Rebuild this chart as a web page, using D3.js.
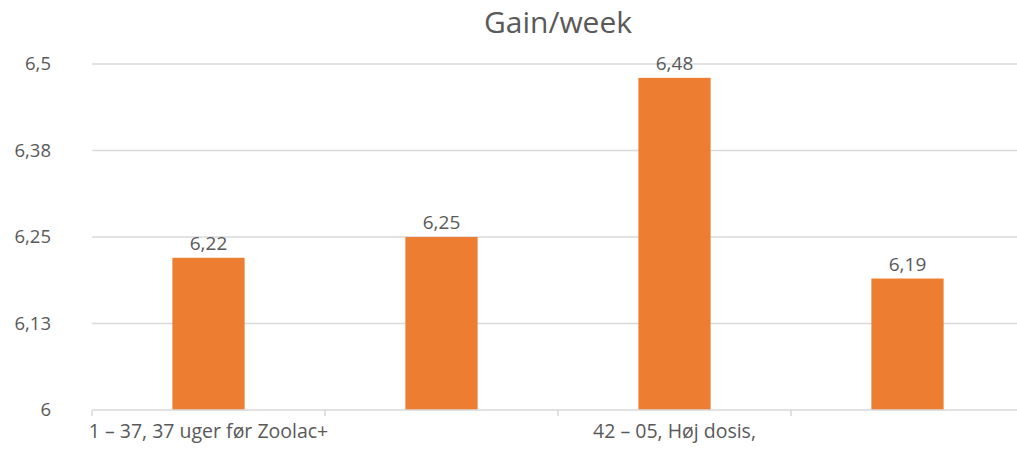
<!DOCTYPE html>
<html><head><meta charset="utf-8">
<script src="https://cdn.jsdelivr.net/npm/d3@7"></script>
<style>body{margin:0;background:#fff}svg{display:block}text{font-family:"Open Sans","Liberation Sans",sans-serif;fill:#595959}</style>
</head><body><svg id="c" width="1017" height="449"></svg>
<script>
const title = "Gain/week";
const categories = ["1 – 37, 37 uger før Zoolac+", "", "42 – 05, Høj dosis,", ""];
const values = [6.22, 6.25, 6.48, 6.19];
const yTicks = [6, 6.125, 6.25, 6.375, 6.5];
const yTickLabels = ["6", "6,13", "6,25", "6,38", "6,5"];

const svg = d3.select("#c");
const m = {left: 92, top: 64, bottom: 410};
const plotRight = 1024;
const x = d3.scaleBand().domain(d3.range(categories.length)).range([m.left, plotRight]).paddingInner(0.69).paddingOuter(0.345);
const xb = d3.scaleBand().domain(d3.range(categories.length)).range([m.left, plotRight]);
const y = d3.scaleLinear().domain([6, 6.5]).range([m.bottom, m.top]);
const fmt = v => String(v).replace(".", ",");

// gridlines
svg.append("g").selectAll("line").data(yTicks.slice(1)).join("line")
  .attr("x1", m.left).attr("x2", 1017).attr("y1", d => y(d)).attr("y2", d => y(d))
  .attr("stroke", "#d9d9d9").attr("stroke-width", 1.5);

// y labels
svg.append("g").selectAll("text").data(yTicks).join("text")
  .attr("x", 51).attr("y", d => y(d)).attr("dy", "0.35em").attr("text-anchor", "end")
  .attr("font-size", 18.5).text((d, i) => yTickLabels[i]);

// bars
svg.append("g").selectAll("rect").data(values).join("rect")
  .attr("x", (d, i) => x(i)).attr("width", x.bandwidth())
  .attr("y", d => y(d)).attr("height", d => y(6) - y(d)).attr("fill", "#ED7D31");

// data labels
svg.append("g").selectAll("text").data(values).join("text")
  .attr("x", (d, i) => x(i) + x.bandwidth() / 2).attr("y", d => y(d) - 8)
  .attr("text-anchor", "middle").attr("font-size", 19).text(d => fmt(d));

// x axis
const xAxis = svg.append("g").attr("transform", `translate(0,${m.bottom})`)
  .call(d3.axisBottom(xb).tickSize(0).tickFormat(i => categories[i]));
xAxis.select(".domain").remove();
xAxis.selectAll("text").attr("font-size", 19.5).attr("y", 0).attr("dy", "1.45em").style("fill", "#595959")
  .style("font-family", "'Open Sans','Liberation Sans',sans-serif");
svg.append("line").attr("x1", m.left).attr("x2", 1017).attr("y1", m.bottom).attr("y2", m.bottom)
  .attr("stroke", "#d9d9d9").attr("stroke-width", 1.5);
svg.append("g").selectAll("line").data(d3.range(categories.length + 1)).join("line")
  .attr("x1", i => m.left + i * xb.step()).attr("x2", i => m.left + i * xb.step())
  .attr("y1", m.bottom).attr("y2", m.bottom + 6).attr("stroke", "#d9d9d9").attr("stroke-width", 1.5);

// title
svg.append("text").attr("x", (m.left + plotRight) / 2).attr("y", 33).attr("text-anchor", "middle")
  .attr("font-size", 30).text(title);
</script></body></html>
